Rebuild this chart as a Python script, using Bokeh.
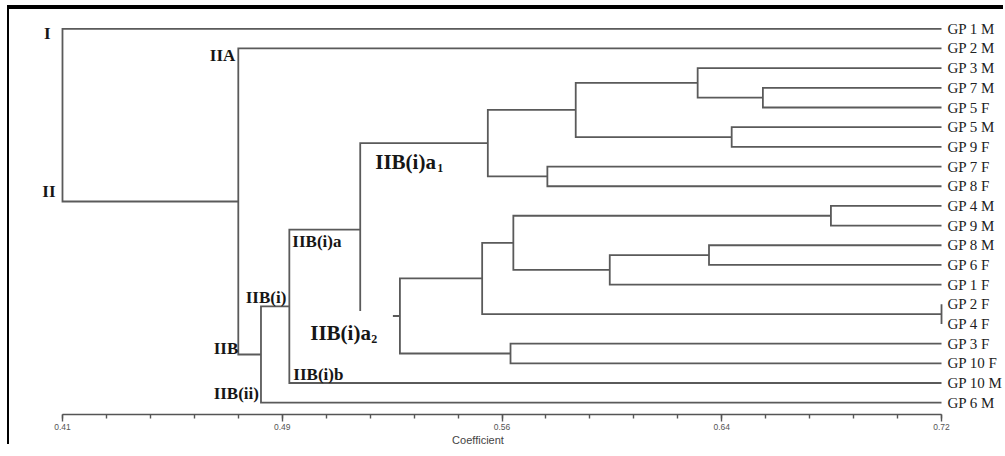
from bokeh.plotting import figure
from bokeh.models import Range1d, FixedTicker
from bokeh.core.properties import value
from bokeh.embed import file_html
from bokeh.resources import INLINE

# ---------------- data ----------------
leaves = ["GP 1 M", "GP 2 M", "GP 3 M", "GP 7 M", "GP 5 F", "GP 5 M", "GP 9 F",
          "GP 7 F", "GP 8 F", "GP 4 M", "GP 9 M", "GP 8 M", "GP 6 F", "GP 1 F",
          "GP 2 F", "GP 4 F", "GP 3 F", "GP 10 F", "GP 10 M", "GP 6 M"]

# merges (node ids: leaves 0..19, merges 20..)
merge_left = [3, 2, 5, 21, 7, 23, 9, 11, 27, 26, 14, 29, 16, 31, 25, 34, 35, 1, 0]
merge_right = [4, 20, 6, 22, 8, 24, 10, 12, 13, 28, 15, 30, 17, 32, 33, 18, 19, 36, 37]
merge_coef = [0.657, 0.634, 0.646, 0.591, 0.581, 0.560, 0.681, 0.638, 0.603, 0.569,
              0.720, 0.558, 0.568, 0.529, 0.515, 0.490, 0.480, 0.472, 0.410]

tick_values = [0.41, 0.4875, 0.565, 0.6425, 0.72]
tick_labels = ["0.41", "0.49", "0.56", "0.64", "0.72"]
leaf_coef = 0.72

# ---------------- layout of the tree ----------------
n = len(leaves)
node_x = [leaf_coef] * n
node_y = [float(i) for i in range(n)]
xs, ys = [], []
for l, r, c in zip(merge_left, merge_right, merge_coef):
    xs.append([node_x[l], c, c, node_x[r]])
    ys.append([node_y[l], node_y[l], node_y[r], node_y[r]])
    node_x.append(c)
    node_y.append((node_y[l] + node_y[r]) / 2)

LINE = "#5a5a5a"
TXT = "#161616"

p = figure(frame_width=931, frame_height=402,
           x_range=Range1d(0.39237, 0.72070), y_range=Range1d(19.6, -0.828),
           y_axis_location="right", output_backend="svg", toolbar_location=None,
           min_border_left=3, min_border_right=0, min_border_top=3, min_border_bottom=0)
p.styles = {"margin-left": "9px", "margin-top": "9px",
            "box-shadow": "-2px -4px 0 0 #000"}
p.xgrid.visible = False
p.ygrid.visible = False
p.outline_line_color = None
p.background_fill_color = "white"
p.border_fill_color = "white"

p.multi_line(xs, ys, line_color=LINE, line_width=1.8, line_join="miter")

# bottom axis
xa = p.xaxis[0]
minor = [round(0.41 + k * 0.0155, 4) for k in range(21)]
xa.ticker = FixedTicker(ticks=tick_values, minor_ticks=minor)
xa.major_label_overrides = {v: t for v, t in zip(tick_values, tick_labels)}
xa.bounds = (0.41, 0.72)
xa.axis_line_color = "#555555"
xa.axis_line_width = 1.6
xa.major_tick_line_color = "#555555"
xa.minor_tick_line_color = "#555555"
xa.major_tick_line_width = 1.4
xa.minor_tick_line_width = 1.4
xa.major_tick_out = 7
xa.major_tick_in = 0
xa.minor_tick_out = 4
xa.minor_tick_in = 0
xa.major_label_standoff = 2
xa.major_label_text_font = "Liberation Sans"
xa.major_label_text_font_size = "8.5px"
xa.major_label_text_color = "#555555"
xa.axis_label = "Coefficient"
xa.axis_label_text_font = "Liberation Sans"
xa.axis_label_text_font_size = "11px"
xa.axis_label_text_font_style = "normal"
xa.axis_label_text_color = "#444444"
xa.axis_label_standoff = 1

# right axis with leaf names
ya = p.yaxis[0]
ya.ticker = FixedTicker(ticks=list(range(n)))
ya.major_label_overrides = {i: name for i, name in enumerate(leaves)}
ya.axis_line_color = None
ya.major_tick_line_color = None
ya.minor_tick_line_color = None
ya.major_tick_out = 0
ya.major_tick_in = 0
ya.minor_tick_out = 0
ya.minor_tick_in = 0
ya.major_label_standoff = 4
ya.major_label_text_font = "Liberation Serif"
ya.major_label_text_font_size = "15px"
ya.major_label_text_color = "#222222"

# cluster labels: (text, node id, end, align, dx, dy, size)
cluster_labels = [
    ("I", 38, "top", "right", -12, 5, "17px"),
    ("II", 38, "bottom", "right", -7, -10, "17px"),
    ("IIA", 37, "top", "right", -3, 7, "17px"),
    ("IIB(i)a", 35, "top", "left", 3, 12, "17px"),
    ("IIB(i)", 35, "mid", "right", -3, -9, "17px"),
    ("IIB", 37, "bottom", "right", 0, -6, "17px"),
    ("IIB(i)b", 35, "bottom", "left", 4, -9, "17px"),
    ("IIB(ii)", 36, "bottom", "right", -2, -9, "17px"),
]


def anchor(node, end):
    k = node - n
    if end == "top":
        return node_x[node], node_y[merge_left[k]]
    if end == "bottom":
        return node_x[node], node_y[merge_right[k]]
    return node_x[node], node_y[node]


for text, node, end, align, dx, dy, size in cluster_labels:
    ax, ay = anchor(node, end)
    p.text([ax], [ay], text=[text], x_offset=dx, y_offset=dy, text_align=align,
           text_baseline="middle", text_font=value("Liberation Serif"),
           text_font_style="bold", text_font_size=size, text_color=TXT)

# large sub-cluster labels with subscripts
ax, ay = anchor(34, "top")
p.text([ax], [ay], text=["IIB(i)a"], x_offset=15, y_offset=19, text_align="left",
       text_baseline="middle", text_font=value("Liberation Serif"),
       text_font_style="bold", text_font_size="21px", text_color=TXT)
p.text([ax], [ay], text=["1"], x_offset=77, y_offset=25, text_align="left",
       text_baseline="middle", text_font=value("Liberation Serif"),
       text_font_style="bold", text_font_size="12px", text_color=TXT)

bx, by = anchor(34, "bottom")
p.text([bx], [by], text=["IIB(i)a"], x_offset=-50, y_offset=12, text_align="left",
       text_baseline="middle", text_font=value("Liberation Serif"),
       text_font_style="bold", text_font_size="21px", text_color=TXT,
       background_fill_color="white",
       padding=dict(left=0, right=22, top=10, bottom=0))
p.text([bx], [by], text=["2"], x_offset=11, y_offset=23, text_align="left",
       text_baseline="middle", text_font=value("Liberation Serif"),
       text_font_style="bold", text_font_size="12px", text_color=TXT)

open("out.html", "w").write(file_html(p, INLINE))
